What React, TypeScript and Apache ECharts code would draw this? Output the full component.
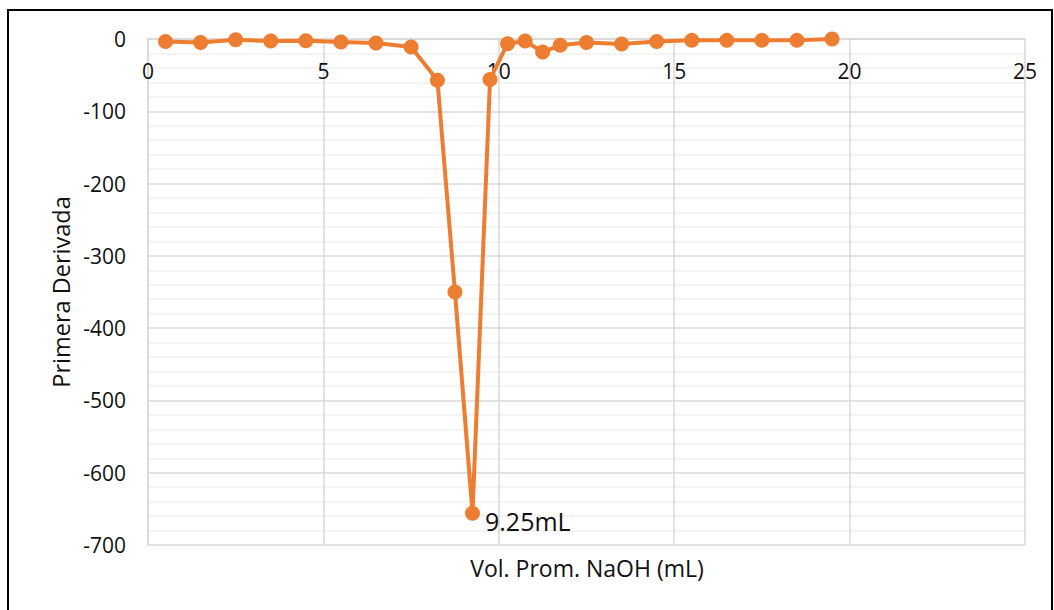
import React, { useEffect, useRef } from "react";
import * as echarts from "echarts";

const volumes = [0.5, 1.5, 2.5, 3.5, 4.5, 5.5, 6.5, 7.5, 8.25, 8.75, 9.25, 9.75, 10.25, 10.75, 11.25, 11.75, 12.5, 13.5, 14.5, 15.5, 16.5, 17.5, 18.5, 19.5];
const firstDerivative = [-3.3, -4.7, -1.2, -2.8, -2.4, -4.2, -5.5, -11, -57, -350, -656, -56, -6.5, -2.8, -18, -8.8, -4.7, -7, -3.3, -1.9, -1.9, -1.9, -1.9, 0];
const peakLabel = "9.25mL";
const peakIndex = 10;
const xTitle = "Vol. Prom. NaOH (mL)";
const yTitle = "Primera Derivada";

const FONT = "'Open Sans', 'Noto Sans', sans-serif";

export default function App() {
  const ref = useRef<HTMLDivElement>(null);
  useEffect(() => {
    if (!ref.current) return;
    const chart = echarts.init(ref.current, null, { renderer: "svg" });
    const data = volumes.map((v, i) => {
      const item: any = { value: [v, firstDerivative[i]] };
      if (i === peakIndex) {
        item.label = {
          show: true,
          formatter: peakLabel,
          position: "right",
          distance: 5,
          offset: [0, 8],
          fontSize: 25,
          fontFamily: FONT,
          color: "#111",
        };
      }
      return item;
    });
    chart.setOption({
      animation: false,
      backgroundColor: "#fff",
      grid: { left: 148, top: 39, width: 877, height: 506, containLabel: false },
      xAxis: {
        type: "value",
        position: "top",
        min: 0,
        max: 25,
        interval: 5,
        axisLine: { show: true, lineStyle: { color: "#D9D9D9", width: 1.5 } },
        axisTick: { show: false },
        axisLabel: { inside: true, margin: 21, fontSize: 21, fontFamily: FONT, color: "#111", verticalAlign: "top" },
        splitLine: { show: true, lineStyle: { color: "#D9D9D9", width: 1.5 } },
      },
      yAxis: {
        type: "value",
        min: -700,
        max: 0,
        interval: 100,
        axisLine: { show: true, lineStyle: { color: "#D9D9D9", width: 1.5 } },
        axisTick: { show: false },
        minorTick: { show: false, splitNumber: 5 },
        minorSplitLine: { show: true, lineStyle: { color: "#F0F0F0", width: 1.5 } },
        axisLabel: { margin: 22, fontSize: 21, fontFamily: FONT, color: "#111" },
        splitLine: { show: true, lineStyle: { color: "#D9D9D9", width: 1.5 } },
      },
      series: [
        {
          type: "line",
          data,
          symbol: "circle",
          symbolSize: 15,
          itemStyle: { color: "#ED7D31" },
          lineStyle: { color: "#ED7D31", width: 4 },
          label: { show: false },
        },
      ],
      graphic: [
        {
          type: "rect",
          shape: { x: 8, y: 10, width: 1044, height: 620 },
          style: { fill: "none", stroke: "#000", lineWidth: 2 },
          silent: true,
        },
        {
          type: "text",
          x: 587,
          y: 568,
          style: {
            text: xTitle,
            fontSize: 23,
            fontFamily: FONT,
            fill: "#111",
            align: "center",
            verticalAlign: "middle",
          },
        },
        {
          type: "text",
          x: 61,
          y: 292,
          rotation: Math.PI / 2,
          style: {
            text: yTitle,
            fontSize: 23.5,
            fontFamily: FONT,
            fill: "#111",
            align: "center",
            verticalAlign: "middle",
          },
        },
      ],
    });
    return () => chart.dispose();
  }, []);
  return (
    <div
      ref={ref}
      style={{ position: "fixed", left: 0, top: 0, width: 1054, height: 610 }}
    />
  );
}
